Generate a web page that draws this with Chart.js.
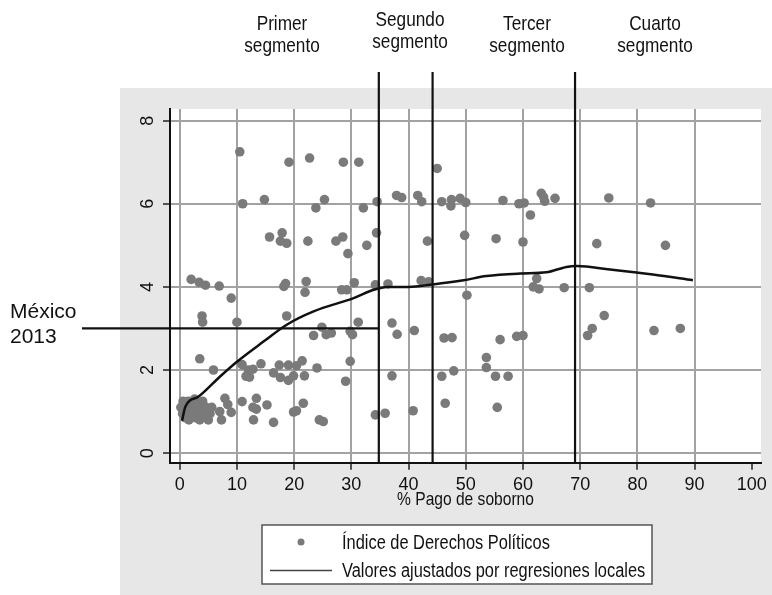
<!DOCTYPE html>
<html>
<head>
<meta charset="utf-8">
<script src="https://cdn.jsdelivr.net/npm/chart.js@4.4.1/dist/chart.umd.min.js"></script>
<style>
  html, body { margin: 0; padding: 0; background: #fff; }
  #wrap { width: 772px; height: 595px; }
</style>
</head>
<body>
<div id="wrap"><canvas id="grafica" width="772" height="595"></canvas></div>
<script>
// ticks
const xTicks = [0, 10, 20, 30, 40, 50, 60, 70, 80, 90, 100];
const yTicks = [0, 2, 4, 6, 8];

// scatter: % pago de soborno (x) vs indice de derechos politicos (y)
const pagoSoborno = [
  10.5, 11.0, 14.8, 19.1, 22.7, 28.6, 31.3, 23.8, 25.3, 32.1, 34.5, 15.7, 17.9, 17.6, 18.7, 22.4,
  27.3, 28.5, 29.4, 32.7, 34.4, 37.9, 38.8, 41.6, 42.3, 45.8, 45.0, 43.3, 47.5, 47.4, 49.0, 50.0,
  49.8, 56.5, 59.3, 60.2, 63.2, 63.8, 63.6, 65.6, 61.3, 55.3, 60.0, 75.0, 82.3, 72.9, 84.9,
  2.0, 3.4, 4.5, 6.9, 9.0, 18.2, 18.5, 21.9, 22.1, 28.3, 29.2, 30.5, 34.2, 36.4, 42.2, 43.5,
  62.4, 61.8, 62.8, 67.2, 71.6, 50.2,
  3.9, 4.0, 10.0, 18.7, 23.4, 24.85, 25.6, 26.5, 31.2, 29.8, 30.2, 37.1, 38.0, 41.0, 46.2, 47.6,
  56.0, 58.9, 60.0, 71.3, 72.1, 74.2, 82.9, 87.5,
  3.5, 5.9, 10.9, 12.0, 11.6, 12.8, 12.2, 14.2, 16.4, 17.4, 17.6, 19.0, 19.0, 19.9, 20.4, 21.4,
  21.8, 24.0, 29.8, 29.0, 37.1, 45.8, 47.9, 53.6, 53.6, 55.2, 57.4,
  7.9, 8.4, 9.0, 7.0, 7.3, 10.9, 13.4, 12.8, 13.4, 12.9, 15.25, 16.4, 21.6, 19.9, 20.4, 24.4,
  25.1, 34.2, 35.9, 40.8, 46.4, 55.5,
  0.2, 0.5, 0.8, 1.0, 1.3, 1.6, 1.9, 2.2, 2.5, 2.8, 3.0, 3.3, 3.5, 3.8, 4.0, 4.3,
  4.6, 5.0, 5.3, 5.6, 2.6, 1.5, 3.6, 0.6
];
const derechosPoliticos = [
  7.25, 6.0, 6.1, 7.0, 7.1, 7.0, 7.0, 5.9, 6.1, 5.9, 6.05, 5.2, 5.3, 5.1, 5.05, 5.1,
  5.1, 5.2, 4.8, 5.0, 5.3, 6.2, 6.15, 6.2, 6.05, 6.05, 6.85, 5.1, 6.1, 5.95, 6.13, 6.03,
  5.24, 6.08, 6.0, 6.02, 6.25, 6.06, 6.16, 6.13, 5.73, 5.16, 5.08, 6.14, 6.02, 5.04, 5.0,
  4.18, 4.11, 4.04, 4.02, 3.73, 4.01, 4.08, 3.87, 4.13, 3.93, 3.93, 4.1, 4.05, 4.07, 4.15, 4.12,
  4.2, 4.0, 3.95, 3.98, 3.98, 3.8,
  3.3, 3.15, 3.15, 3.3, 2.83, 3.03, 2.85, 2.89, 3.15, 2.93, 2.85, 3.13, 2.86, 2.95, 2.77, 2.78,
  2.73, 2.81, 2.83, 2.83, 3.0, 3.31, 2.95, 3.0,
  2.27, 2.0, 2.13, 2.0, 1.85, 2.02, 1.83, 2.15, 1.93, 2.12, 1.82, 2.12, 1.75, 1.86, 2.1, 2.22,
  1.86, 2.05, 2.21, 1.73, 1.86, 1.85, 1.98, 2.3, 2.06, 1.85, 1.85,
  1.32, 1.17, 0.98, 1.0, 0.8, 1.24, 1.32, 1.1, 1.06, 0.8, 1.16, 0.74, 1.2, 0.99, 1.02, 0.8,
  0.76, 0.92, 0.96, 1.02, 1.2, 1.1,
  1.1, 0.95, 1.15, 0.85, 1.05, 0.8, 1.2, 0.95, 1.1, 0.85, 1.0, 1.2, 0.8, 1.05, 1.25, 0.9,
  1.1, 0.8, 0.95, 1.1, 1.3, 1.25, 1.0, 1.25
];

// local regression (lowess) fit
const lowessX = [0.4, 1.0, 3.3, 7.1, 10, 14.7, 18.7, 23.4, 30.4, 33.9, 36.2, 40, 44.2, 49.6, 53.6, 59.5, 64.1, 67.6, 69.4, 75.2, 82.7, 89.7];
const lowessY = [0.78, 1.12, 1.36, 1.85, 2.2, 2.69, 3.09, 3.41, 3.73, 3.93, 4.0, 4.0, 4.06, 4.16, 4.26, 4.32, 4.35, 4.48, 4.5, 4.42, 4.3, 4.16];

// segment breaks (% pago de soborno) and labels
const segmentBreaks = [34.8, 44.2, 69.1];
const segmentLabels = [['Primer', 'segmento'], ['Segundo', 'segmento'], ['Tercer', 'segmento'], ['Cuarto', 'segmento']];
const mexicoLabel = ['México', '2013'];
const mexicoValue = 3;
const xTitle = '% Pago de soborno';

const sans = '"Liberation Sans", Arial, sans-serif';
const gridGray = '#a2a2a2';
const panelGray = '#e7e7e7';
const dotGray = '#7a7a7a';

Chart.defaults.font.family = sans;
Chart.defaults.color = '#111';

const fondo = {
  id: 'fondo',
  beforeDraw(chart) {
    const {ctx, chartArea: a} = chart;
    ctx.save();
    ctx.fillStyle = '#fff';
    ctx.fillRect(0, 0, chart.width, chart.height);
    ctx.fillStyle = panelGray;
    ctx.fillRect(120, 88, chart.width - 120, chart.height - 88);
    ctx.fillStyle = '#fff';
    ctx.fillRect(a.left, a.top, a.right - a.left, a.bottom - a.top);
    ctx.restore();
  }
};

function linea(ctx, x1, y1, x2, y2) {
  ctx.beginPath();
  ctx.moveTo(x1, y1);
  ctx.lineTo(x2, y2);
  ctx.stroke();
}

// the source uses a narrow face; squeeze the regular one
function estrecho(ctx, t, x, y) {
  ctx.save();
  ctx.translate(x, y);
  ctx.scale(0.82, 1);
  ctx.fillText(t, 0, 0);
  ctx.restore();
}

const anotaciones = {
  id: 'anotaciones',
  afterDraw(chart) {
    const {ctx, chartArea: a, scales: {x, y}} = chart;
    ctx.save();
    ctx.strokeStyle = '#111';
    ctx.lineWidth = 2.2;
    segmentBreaks.forEach(v => {
      const px = x.getPixelForValue(v);
      linea(ctx, px, 72, px, a.bottom);
    });
    const my = y.getPixelForValue(mexicoValue);
    linea(ctx, 82, my, x.getPixelForValue(segmentBreaks[0]), my);

    // segment titles
    ctx.fillStyle = '#111';
    ctx.textAlign = 'center';
    ctx.textBaseline = 'alphabetic';
    ctx.font = '21px ' + sans;
    const cx = [282, 410, 527, 655];
    const base = [30, 26, 30, 30];
    segmentLabels.forEach((lines, i) => {
      lines.forEach((t, j) => estrecho(ctx, t, cx[i], base[i] + j * 22));
    });

    // x axis title
    ctx.font = '19px ' + sans;
    ctx.textBaseline = 'middle';
    estrecho(ctx, xTitle, (a.left + a.right) / 2, 500);

    // México 2013
    ctx.textAlign = 'left';
    ctx.textBaseline = 'alphabetic';
    ctx.font = '21px ' + sans;
    ctx.fillText(mexicoLabel[0], 10, 318);
    ctx.fillText(mexicoLabel[1], 10, 343);

    // legend
    ctx.fillStyle = '#fff';
    ctx.fillRect(262, 525, 390, 59);
    ctx.strokeStyle = '#555';
    ctx.lineWidth = 1.5;
    ctx.strokeRect(262, 525, 390, 59);
    ctx.fillStyle = dotGray;
    ctx.beginPath();
    ctx.arc(301, 542, 3.5, 0, Math.PI * 2);
    ctx.fill();
    ctx.strokeStyle = '#444';
    linea(ctx, 270, 570.5, 332, 570.5);
    ctx.fillStyle = '#111';
    ctx.font = '20px ' + sans;
    estrecho(ctx, chart.data.datasets[1].label, 342, 549);
    estrecho(ctx, chart.data.datasets[0].label, 342, 577);
    ctx.restore();
  }
};

new Chart(document.getElementById('grafica'), {
  type: 'scatter',
  data: {
    datasets: [{
      type: 'line',
      label: 'Valores ajustados por regresiones locales',
      data: lowessX.map((v, i) => ({x: v, y: lowessY[i]})),
      borderColor: '#111',
      borderWidth: 2.5,
      pointRadius: 0,
      cubicInterpolationMode: 'monotone',
      order: 0
    }, {
      label: 'Índice de Derechos Políticos',
      data: pagoSoborno.map((v, i) => ({x: v, y: derechosPoliticos[i]})),
      backgroundColor: dotGray,
      borderWidth: 0,
      pointRadius: 4.8,
      order: 1
    }]
  },
  options: {
    responsive: false,
    animation: false,
    devicePixelRatio: 1,
    layout: { padding: { left: 120, right: 10.3, top: 109, bottom: 72.3 } },
    plugins: {
      legend: { display: false },
      tooltip: { enabled: false }
    },
    scales: {
      x: {
        type: 'linear',
        min: -1.7,
        max: 101.6,
        afterBuildTicks: s => { s.ticks = xTicks.map(v => ({value: v})); },
        afterFit: s => { s.height = 60; },
        ticks: { padding: 5, color: '#111', font: { size: 18 } },
        grid: {
          color: c => (c.tick && c.tick.value === 100) ? 'rgba(0,0,0,0)' : gridGray,
          lineWidth: 2,
          tickLength: 7,
          tickColor: '#222',
          tickWidth: 1.5
        },
        border: { color: '#111', width: 2 }
      },
      y: {
        type: 'linear',
        min: -0.23,
        max: 8.28,
        afterBuildTicks: s => { s.ticks = yTicks.map(v => ({value: v})); },
        afterFit: s => { s.width = 50; },
        ticks: { padding: 10, color: '#111', font: { size: 18 }, minRotation: 90, maxRotation: 90, crossAlign: 'center' },
        grid: {
          color: gridGray,
          lineWidth: 2,
          tickLength: 7,
          tickColor: '#222',
          tickWidth: 1.5
        },
        border: { color: '#111', width: 2 }
      }
    }
  },
  plugins: [fondo, anotaciones]
});
</script>
</body>
</html>
